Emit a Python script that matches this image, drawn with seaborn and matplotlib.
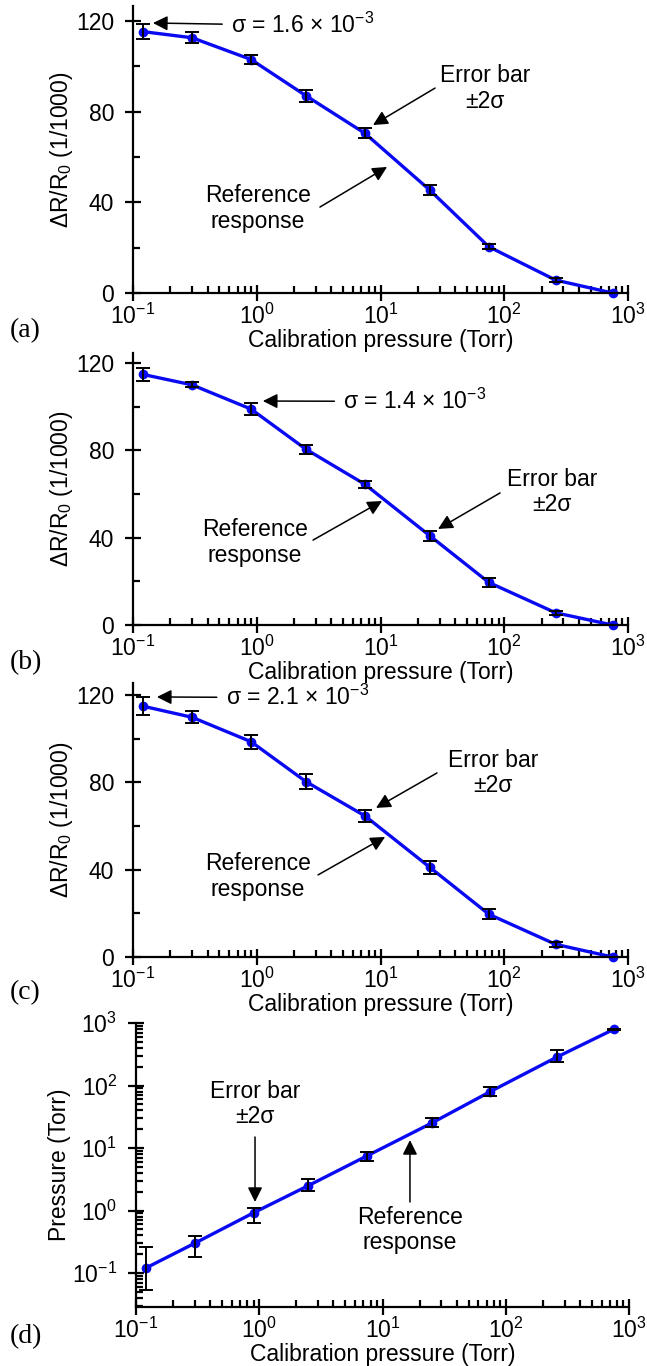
import numpy as np
import matplotlib
matplotlib.use("Agg")
import matplotlib.pyplot as plt
import seaborn as sns
from matplotlib.ticker import MultipleLocator, LogLocator, NullFormatter

# Calibration pressures (Torr) shared by all panels
cal_pressure = [0.12, 0.3, 0.9, 2.5, 7.5, 25, 75, 260, 750]

# Sensor response dR/R0 (1/1000) and +/-2 sigma half-widths, panels (a)-(c)
resp_a = [115.3, 112.6, 103.0, 87.0, 70.4, 45.4, 20.4, 5.7, 0.0]
err_a = [3.3, 2.5, 2.0, 2.6, 2.2, 2.2, 1.0, 0.8, 0.0]

resp_b = [114.8, 110.0, 98.9, 80.5, 64.4, 40.9, 19.5, 5.6, 0.0]
err_b = [2.8, 1.2, 2.7, 2.1, 1.7, 2.2, 2.0, 1.0, 0.0]

resp_c = [114.9, 109.8, 98.6, 80.3, 64.6, 41.1, 19.6, 5.8, 0.0]
err_c = [4.2, 2.8, 3.2, 3.3, 2.7, 3.0, 2.3, 1.2, 0.0]

# Inferred pressure (Torr) with lower / upper error-bar limits, panel (d)
meas_d = [0.12, 0.30, 0.92, 2.5, 7.5, 25.0, 80.0, 285.0, 790.0]
low_d = [0.054, 0.18, 0.64, 2.07, 6.3, 21.9, 68.7, 240.0, 780.0]
high_d = [0.258, 0.39, 1.08, 3.15, 8.7, 29.9, 95.7, 370.0, 800.0]

sigma_text = ["1.6", "1.4", "2.1"]
panel_tags = ["(a)", "(b)", "(c)", "(d)"]

sns.set_style("ticks")
plt.rcParams["font.family"] = ["Liberation Sans", "DejaVu Sans"]
plt.rcParams["mathtext.fontset"] = "custom"
plt.rcParams["mathtext.rm"] = "Liberation Sans"
plt.rcParams["mathtext.it"] = "Liberation Sans:italic"
plt.rcParams["mathtext.bf"] = "Liberation Sans:bold"
for key in ("text.color", "axes.labelcolor", "xtick.color", "ytick.color",
            "axes.edgecolor"):
    plt.rcParams[key] = "black"

BLUE = "#0a0af2"
FS = 16.5
W, H = 647, 1366

fig = plt.figure(figsize=(W / 100, H / 100), dpi=100)


def add_axes(left, right, top, bottom):
    return fig.add_axes([left / W, 1 - bottom / H, (right - left) / W, (bottom - top) / H])


def style(ax, linear_y=True):
    for side in ("top", "right"):
        ax.spines[side].set_visible(False)
    for side in ("left", "bottom"):
        ax.spines[side].set_linewidth(1.6)
        ax.spines[side].set_color("black")
    ax.set_xscale("log")
    ax.set_xlim(0.1, 1000)
    ax.xaxis.set_major_locator(LogLocator(base=10, numticks=10))
    ax.xaxis.set_minor_locator(LogLocator(base=10, subs=np.arange(2, 10), numticks=20))
    ax.xaxis.set_minor_formatter(NullFormatter())
    if linear_y:
        ax.yaxis.set_major_locator(MultipleLocator(40))
        ax.yaxis.set_minor_locator(MultipleLocator(20))
    ax.tick_params(which="major", direction="inout", length=11, width=1.6,
                   labelsize=FS, colors="black")
    ax.tick_params(axis="x", which="major", pad=2)
    ax.tick_params(axis="y", which="major", pad=8)
    ax.tick_params(which="minor", direction="in", length=5, width=1.6)
    ax.set_xlabel("Calibration pressure (Torr)", fontsize=FS, labelpad=0)


def draw_series(ax, y, yerr):
    sns.lineplot(x=cal_pressure, y=y, ax=ax, color=BLUE, lw=2.4, marker="o",
                 markersize=7, markeredgewidth=0, clip_on=False, zorder=2)
    ax.errorbar(cal_pressure, y, yerr=yerr, fmt="none", ecolor="black",
                elinewidth=1.4, capsize=5, capthick=1.4, zorder=3, clip_on=False)


arrow = dict(arrowstyle="-|>", color="black", lw=1.1, mutation_scale=22,
             shrinkA=0, shrinkB=0)

# Positions of the axes boxes (pixels: left, right, top, bottom)
boxes = [(133, 628, 6, 293), (133, 628, 353, 625), (133, 628, 683, 957)]
ytops = [126.6, 124.6, 125.5]
responses = [(resp_a, err_a), (resp_b, err_b), (resp_c, err_c)]

# Annotation anchors in data coordinates for panels (a)-(c)
sigma_tip = [(0.145, 119.1), (1.12, 102.6), (0.156, 119.1)]
sigma_txt = [(0.62, 118.0), (5.0, 102.4), (0.56, 118.8)]
err_txt = [(69.9, 90.2), (243, 60.9), (81.1, 84.3)]
err_tail = [(27.6, 90.4), (92.5, 60.5), (28.6, 84.3)]
err_tip = [(8.7, 74.1), (29.2, 44.0), (9.2, 68.3)]
ref_txt = [(1.02, 37.3), (0.968, 37.8), (1.02, 36.9)]
ref_tail = [(3.24, 37.9), (2.85, 38.9), (3.13, 37.6)]
ref_tip = [(11.3, 55.6), (10.3, 56.8), (10.9, 55.0)]

for i in range(3):
    ax = add_axes(*boxes[i])
    style(ax)
    draw_series(ax, *responses[i])
    ax.set_ylim(0, ytops[i])
    ax.set_ylabel(r"$\Delta$R/R$_0$ (1/1000)", fontsize=FS, labelpad=1)
    ax.annotate(r"σ = " + sigma_text[i] + r" × 10$^{-3}$", xy=sigma_tip[i],
                xytext=sigma_txt[i], ha="left", va="center", fontsize=FS,
                arrowprops=dict(arrow, shrinkA=4))
    ax.text(*err_txt[i], "Error bar\n±2σ", ha="center", va="center",
            fontsize=FS, linespacing=1.15)
    ax.annotate("", xy=err_tip[i], xytext=err_tail[i], arrowprops=arrow)
    ax.text(*ref_txt[i], "Reference\nresponse", ha="center", va="center",
            fontsize=FS, linespacing=1.15)
    ax.annotate("", xy=ref_tip[i], xytext=ref_tail[i], arrowprops=arrow)

# Panel (d): inferred pressure against calibration pressure
ax = add_axes(136, 629, 1023, 1307)
style(ax, linear_y=False)
ax.set_yscale("log")
yerr_d = [np.subtract(meas_d, low_d), np.subtract(high_d, meas_d)]
draw_series(ax, meas_d, yerr_d)
ax.set_ylim(0.0286, 1000)
ax.yaxis.set_major_locator(LogLocator(base=10, numticks=10))
ax.yaxis.set_minor_locator(LogLocator(base=10, subs=np.arange(2, 10), numticks=20))
ax.yaxis.set_minor_formatter(NullFormatter())
ax.tick_params(which="major", direction="inout", length=11, width=1.6)
ax.tick_params(axis="y", which="major", pad=8)
ax.tick_params(which="minor", direction="in", length=5, width=1.6)
ax.set_ylabel("Pressure (Torr)", fontsize=FS, labelpad=1)
ax.text(0.924, 50.6, "Error bar\n±2σ", ha="center", va="center",
        fontsize=FS, linespacing=1.15)
ax.annotate("", xy=(0.924, 1.37), xytext=(0.924, 15.0), arrowprops=arrow)
ax.text(16.7, 0.487, "Reference\nresponse", ha="center", va="center",
        fontsize=FS, linespacing=1.15)
ax.annotate("", xy=(16.7, 13.4), xytext=(16.7, 1.37), arrowprops=arrow)

# Panel tags
for tag, yc in zip(panel_tags, [331, 663, 993, 1337]):
    fig.text(10 / W, 1 - yc / H, tag, family="Liberation Serif", fontsize=20,
             ha="left", va="center")

fig.savefig("out.png", dpi=100)
